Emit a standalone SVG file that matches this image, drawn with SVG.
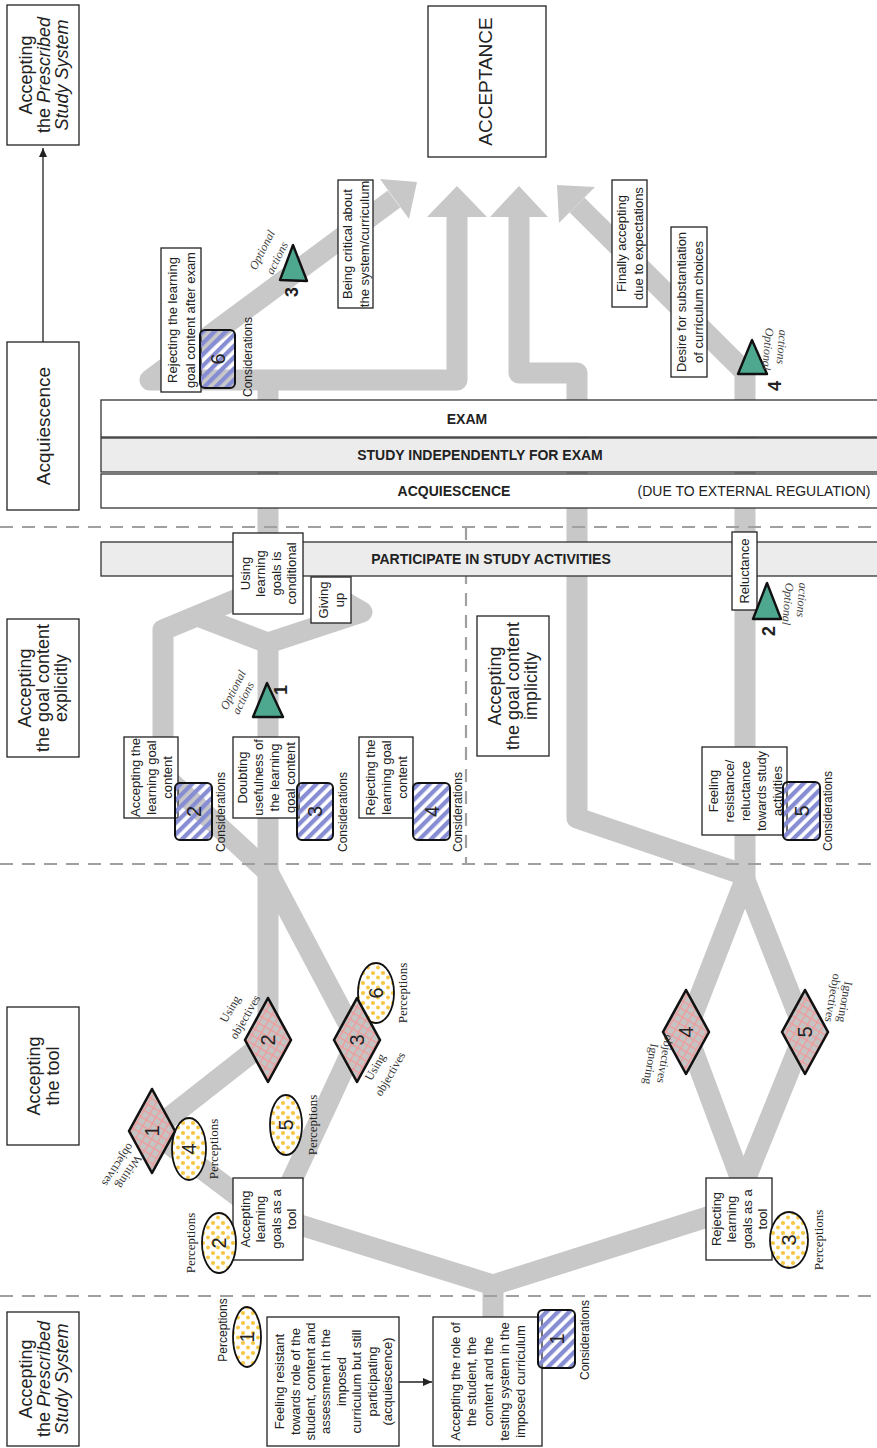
<svg xmlns="http://www.w3.org/2000/svg" width="877" height="1448" viewBox="0 0 877 1448">
<style>
.gp{fill:none;stroke:#c8c8c8;stroke-width:21;stroke-linejoin:round}
.ah{fill:#c8c8c8}
.dash{stroke:#a0a0a0;stroke-width:2.2;stroke-dasharray:13 9;fill:none}
.box{fill:#fff;stroke:#222;stroke-width:1.3}
.band{stroke:#333;stroke-width:1.3}
text{font-family:"Liberation Sans",Arial,sans-serif;fill:#222;text-anchor:middle;dominant-baseline:central}
.t13{font-size:13px}
.ph{font-size:18px}
.bt{font-size:14px;font-weight:bold}
.lab{font-size:12px}
.ser{font-family:"Liberation Serif","Times New Roman",serif;font-size:13px}
.opt{font-family:"Liberation Serif","Times New Roman",serif;font-style:italic;font-size:12px;fill:#444}
.obj{font-family:"Liberation Serif","Times New Roman",serif;font-size:12px;fill:#333}
.num{font-size:20px}
.tn{font-size:18px;font-weight:bold}
.cons{fill:url(#hatch);stroke:#111;stroke-width:2}
.perc{fill:url(#dots);stroke:#111;stroke-width:1.8}
.dia{fill:url(#grid);stroke:#111;stroke-width:2.6;stroke-linejoin:round}
.tri{fill:#4ea890;stroke:#111;stroke-width:2.4;stroke-linejoin:round}
.ln{stroke:#222;stroke-width:1.3;fill:none}
</style>
<defs>
<pattern id="hatch" width="8" height="8" patternUnits="userSpaceOnUse" patternTransform="rotate(-45)">
<rect x="0" y="0" width="8" height="4.3" fill="#878dd3"/>
</pattern>
<pattern id="dots" width="10" height="10" patternUnits="userSpaceOnUse">
<rect width="10" height="10" fill="#fff"/>
<circle cx="3" cy="3" r="2.1" fill="#f6c744"/>
<circle cx="8" cy="7.5" r="1.9" fill="#f6c744"/>
</pattern>
<pattern id="grid" width="7" height="7" patternUnits="userSpaceOnUse" patternTransform="rotate(30)">
<rect width="7" height="7" fill="#c4c4c4"/>
<path d="M0 0.5H7M0.5 0V7" stroke="#f29a9a" stroke-width="1.5"/>
</pattern>
<marker id="arr" markerWidth="10" markerHeight="10" refX="9" refY="5" orient="auto" markerUnits="userSpaceOnUse">
<path d="M0,1 L9,5 L0,9 Z" fill="#222"/>
</marker>
</defs>
<rect width="877" height="1448" fill="#fff"/>

<g id="connectors">
<path class="gp" d="M394,199 L150,380 L457,380 L457,215"/>
<path class="gp" d="M268,380 L268,585"/>
<path class="gp" d="M268,585 L240,598 L163,630 L163,775 L268,872"/>
<path class="gp" d="M268,872 L268,643"/>
<path class="gp" d="M200,617 L268,643 L362,612 L338,598" stroke-linecap="round"/>
<path class="gp" d="M268,872 L268,1040"/>
<path class="gp" d="M268,872 L357,1040"/>
<path class="gp" d="M268,1040 L152,1131 L250,1205"/>
<path class="gp" d="M357,1040 L285,1195"/>
<path class="gp" d="M268,1215 L493,1285 L720,1213"/>
<path class="gp" d="M493,1285 L493,1320"/>
<path class="gp" d="M743,1185 L686,1032 L745,880"/>
<path class="gp" d="M743,1185 L805,1032 L745,880"/>
<path class="gp" d="M745,885 L745,372 L577,205"/>
<path class="gp" d="M745,875 L577,818 L577,373 L519,373 L519,215"/>
<polygon class="ah" points="457,186 427,217 487,217"/>
<polygon class="ah" points="519,186 490,217 548,217"/>
<polygon class="ah" points="417,182 409,219 380,179"/>
<polygon class="ah" points="557,185 595,187 559,223"/>
<line class="ln" x1="43" y1="342" x2="43" y2="148" marker-end="url(#arr)"/>
<line class="ln" x1="399" y1="1382" x2="432" y2="1382" marker-end="url(#arr)"/>
</g>

<g id="phase-lines">
<line class="dash" x1="0" y1="527" x2="877" y2="527"/>
<line class="dash" x1="0" y1="864" x2="877" y2="864"/>
<line class="dash" x1="0" y1="1296" x2="877" y2="1296"/>
<line class="dash" x1="466" y1="527" x2="466" y2="864"/>
</g>

<g id="bands">
<rect class="band" x="101" y="400" width="790" height="37" fill="#fff"/>
<text class="bt" x="467" y="418.5">EXAM</text>
<rect class="band" x="101" y="438" width="790" height="34" fill="#ececec"/>
<text class="bt" x="480" y="455">STUDY INDEPENDENTLY FOR EXAM</text>
<rect class="band" x="101" y="474" width="790" height="34" fill="#fff"/>
<text class="bt" x="454" y="491">ACQUIESCENCE</text>
<text x="754" y="491" style="font-size:14px">(DUE TO EXTERNAL REGULATION)</text>
<rect class="band" x="101" y="542" width="790" height="34" fill="#ececec"/>
<text class="bt" x="491" y="559">PARTICIPATE IN STUDY ACTIVITIES</text>
</g>

<g id="phase-top" transform="translate(43,75) rotate(-90)">
<rect class="box" x="-70" y="-36" width="140" height="72"/>
<text class="ph"><tspan x="0" y="-17.5">Accepting</tspan><tspan x="0" y="0.5">the <tspan font-style="italic">Prescribed</tspan></tspan><tspan x="0" y="18.5" font-style="italic">Study System</tspan></text>
</g>
<g id="phase-acq" transform="translate(43,426) rotate(-90)">
<rect class="box" x="-84" y="-36" width="168" height="72"/>
<text class="ph" x="0" y="0" style="font-size:19px">Acquiescence</text>
</g>
<g id="phase-explicit" transform="translate(43,688) rotate(-90)">
<rect class="box" x="-69" y="-36" width="138" height="72"/>
<text class="ph"><tspan x="0" y="-18">Accepting</tspan><tspan x="0" y="0">the goal content</tspan><tspan x="0" y="18">explicitly</tspan></text>
</g>
<g id="phase-tool" transform="translate(43,1076) rotate(-90)">
<rect class="box" x="-69" y="-36" width="138" height="72"/>
<text class="ph"><tspan x="0" y="-9.5">Accepting</tspan><tspan x="0" y="10">the tool</tspan></text>
</g>
<g id="phase-bottom" transform="translate(43,1379) rotate(-90)">
<rect class="box" x="-67" y="-36" width="134" height="72"/>
<text class="ph"><tspan x="0" y="-17.5">Accepting</tspan><tspan x="0" y="0.5">the <tspan font-style="italic">Prescribed</tspan></tspan><tspan x="0" y="18.5" font-style="italic">Study System</tspan></text>
</g>
<g id="phase-implicit" transform="translate(513,686) rotate(-90)">
<rect class="box" x="-70" y="-36" width="140" height="72"/>
<text class="ph"><tspan x="0" y="-18">Accepting</tspan><tspan x="0" y="0">the goal content</tspan><tspan x="0" y="18">implicitly</tspan></text>
</g>

<g id="acceptance" transform="translate(487,81.5) rotate(-90)">
<rect class="box" x="-75.5" y="-59" width="151" height="118"/>
<text x="0" y="-2" style="font-size:19px">ACCEPTANCE</text>
</g>

<g id="rej-exam" transform="translate(181,320) rotate(-90)">
<rect class="box" x="-72" y="-20" width="144" height="40"/>
<text class="t13"><tspan x="0" y="-9">Rejecting the learning</tspan><tspan x="0" y="9">goal content after exam</tspan></text>
</g>
<g id="critical" transform="translate(355.5,244) rotate(-90)">
<rect class="box" x="-64" y="-17.5" width="128" height="35"/>
<text class="t13"><tspan x="0" y="-8.5">Being critical about</tspan><tspan x="0" y="8.5">the system/curriculum</tspan></text>
</g>
<g id="finally" transform="translate(629.5,243.5) rotate(-90)">
<rect class="box" x="-63.5" y="-17.5" width="127" height="35"/>
<text class="t13"><tspan x="0" y="-8.5">Finally accepting</tspan><tspan x="0" y="8.5">due to expectations</tspan></text>
</g>
<g id="desire" transform="translate(689,302) rotate(-90)">
<rect class="box" x="-75" y="-18" width="150" height="36"/>
<text class="t13"><tspan x="0" y="-8.5">Desire for substantiation</tspan><tspan x="0" y="8.5">of curriculum choices</tspan></text>
</g>
<g id="using-cond" transform="translate(268,573.5) rotate(-90)">
<rect class="box" x="-40.5" y="-35" width="81" height="70"/>
<text class="t13"><tspan x="0" y="-23.25">Using</tspan><tspan x="0" y="-7.75">learning</tspan><tspan x="0" y="7.75">goals is</tspan><tspan x="0" y="23.25">conditional</tspan></text>
</g>
<g id="giving-up" transform="translate(331,600) rotate(-90)">
<rect class="box" x="-23" y="-20" width="46" height="40"/>
<text class="t13"><tspan x="0" y="-8">Giving</tspan><tspan x="0" y="8">up</tspan></text>
</g>
<g id="reluctance" transform="translate(744.5,571) rotate(-90)">
<rect class="box" x="-39" y="-12.5" width="78" height="25"/>
<text class="t13" x="0" y="0">Reluctance</text>
</g>
<g id="acc-goal" transform="translate(151,777.5) rotate(-90)">
<rect class="box" x="-40.5" y="-27" width="81" height="54"/>
<text class="t13"><tspan x="0" y="-16">Accepting the</tspan><tspan x="0" y="0">learning goal</tspan><tspan x="0" y="16">content</tspan></text>
</g>
<g id="doubting" transform="translate(266,777.5) rotate(-90)">
<rect class="box" x="-40.5" y="-33" width="81" height="66"/>
<text class="t13"><tspan x="0" y="-24">Doubting</tspan><tspan x="0" y="-8">usefulness of</tspan><tspan x="0" y="8">the learning</tspan><tspan x="0" y="24">goal content</tspan></text>
</g>
<g id="rej-goal" transform="translate(386,777.5) rotate(-90)">
<rect class="box" x="-40.5" y="-27" width="81" height="54"/>
<text class="t13"><tspan x="0" y="-16">Rejecting the</tspan><tspan x="0" y="0">learning goal</tspan><tspan x="0" y="16">content</tspan></text>
</g>
<g id="feeling-res" transform="translate(744.5,791) rotate(-90)">
<rect class="box" x="-44" y="-42.5" width="88" height="85"/>
<text class="t13"><tspan x="0" y="-32">Feeling</tspan><tspan x="0" y="-16">resistance/</tspan><tspan x="0" y="0">reluctance</tspan><tspan x="0" y="16">towards study</tspan><tspan x="0" y="32">activities</tspan></text>
</g>
<g id="acc-tool" transform="translate(268,1219) rotate(-90)">
<rect class="box" x="-41" y="-35" width="82" height="70"/>
<text class="t13"><tspan x="0" y="-23.25">Accepting</tspan><tspan x="0" y="-7.75">learning</tspan><tspan x="0" y="7.75">goals as a</tspan><tspan x="0" y="23.25">tool</tspan></text>
</g>
<g id="rej-tool" transform="translate(739,1219) rotate(-90)">
<rect class="box" x="-41" y="-33" width="82" height="66"/>
<text class="t13"><tspan x="0" y="-23.25">Rejecting</tspan><tspan x="0" y="-7.75">learning</tspan><tspan x="0" y="7.75">goals as a</tspan><tspan x="0" y="23.25">tool</tspan></text>
</g>
<g id="feeling-resistant" transform="translate(333,1381.5) rotate(-90)">
<rect class="box" x="-64.5" y="-66" width="129" height="132"/>
<text class="t13"><tspan x="0" y="-53.9">Feeling resistant</tspan><tspan x="0" y="-38.5">towards role of the</tspan><tspan x="0" y="-23.1">student, content and</tspan><tspan x="0" y="-7.7">assessment in the</tspan><tspan x="0" y="7.7">imposed</tspan><tspan x="0" y="23.1">curriculum but still</tspan><tspan x="0" y="38.5">participating</tspan><tspan x="0" y="53.9">(acquiescence)</tspan></text>
</g>
<g id="acc-role" transform="translate(487.5,1381.5) rotate(-90)">
<rect class="box" x="-64.5" y="-54.5" width="129" height="109"/>
<text class="t13"><tspan x="0" y="-32.6">Accepting the role of</tspan><tspan x="0" y="-16.3">the student, the</tspan><tspan x="0" y="0">content and the</tspan><tspan x="0" y="16.3">testing system in the</tspan><tspan x="0" y="32.6">imposed curriculum</tspan></text>
</g>

<g id="cons-1"><rect class="cons" x="538" y="1310" width="37" height="58" rx="5"/><text class="num" transform="translate(556.5,1339) rotate(-90)">1</text><text class="lab" transform="translate(585,1340) rotate(-90)">Considerations</text></g>
<g id="cons-2"><rect class="cons" x="175" y="783" width="37" height="57" rx="5"/><text class="num" transform="translate(193.5,811.5) rotate(-90)">2</text><text class="lab" transform="translate(221,812) rotate(-90)">Considerations</text></g>
<g id="cons-3"><rect class="cons" x="297" y="783" width="36" height="57" rx="5"/><text class="num" transform="translate(315,811.5) rotate(-90)">3</text><text class="lab" transform="translate(343,812) rotate(-90)">Considerations</text></g>
<g id="cons-4"><rect class="cons" x="413" y="783" width="37" height="57" rx="5"/><text class="num" transform="translate(431.5,811.5) rotate(-90)">4</text><text class="lab" transform="translate(458,812) rotate(-90)">Considerations</text></g>
<g id="cons-5"><rect class="cons" x="783" y="782" width="37" height="58" rx="5"/><text class="num" transform="translate(801.5,811) rotate(-90)">5</text><text class="lab" transform="translate(828,811) rotate(-90)">Considerations</text></g>
<g id="cons-6"><rect class="cons" x="200" y="330" width="35" height="58" rx="5"/><text class="num" transform="translate(217.5,359) rotate(-90)">6</text><text class="lab" transform="translate(248,357) rotate(-90)">Considerations</text></g>

<g id="perc-1"><ellipse class="perc" cx="247" cy="1337" rx="14" ry="30"/><text class="num" transform="translate(247,1337) rotate(-90)">1</text><text class="lab" transform="translate(223,1330) rotate(-90)">Perceptions</text></g>
<g id="perc-2"><ellipse class="perc" cx="219" cy="1243" rx="17" ry="30"/><text class="num" transform="translate(219,1243) rotate(-90)">2</text><text class="ser" transform="translate(190,1243) rotate(-90)">Perceptions</text></g>
<g id="perc-3"><ellipse class="perc" cx="789" cy="1240" rx="19" ry="28"/><text class="num" transform="translate(789,1240) rotate(-90)">3</text><text class="ser" transform="translate(818,1240) rotate(-90)">Perceptions</text></g>
<g id="perc-4"><ellipse class="perc" cx="189" cy="1149" rx="17" ry="31"/><text class="num" transform="translate(189,1149) rotate(-90)">4</text><text class="ser" transform="translate(213,1149) rotate(-90)">Perceptions</text></g>
<g id="perc-5"><ellipse class="perc" cx="286" cy="1125" rx="16" ry="30"/><text class="num" transform="translate(286,1125) rotate(-90)">5</text><text class="ser" transform="translate(312,1125) rotate(-90)">Perceptions</text></g>
<g id="perc-6"><ellipse class="perc" cx="376" cy="993" rx="18" ry="30"/><text class="num" transform="translate(376,993) rotate(-90)">6</text><text class="ser" transform="translate(402,993) rotate(-90)">Perceptions</text></g>

<g id="obj-1"><polygon class="dia" points="152,1089 175,1131 152,1173 129,1131"/><text class="num" transform="translate(152,1131) rotate(-90)">1</text><text class="obj" transform="translate(129,1172) rotate(123)">Writing</text><text class="obj" transform="translate(118,1165) rotate(123)">objectives</text></g>
<g id="obj-2"><polygon class="dia" points="268,998 291,1040 268,1082 245,1040"/><text class="num" transform="translate(268,1040) rotate(-90)">2</text><text class="obj" transform="translate(230,1009) rotate(-60)">Using</text><text class="obj" transform="translate(245,1017) rotate(-60)">objectives</text></g>
<g id="obj-3"><polygon class="dia" points="357,998 380,1040 357,1082 334,1040"/><text class="num" transform="translate(357,1040) rotate(-90)">3</text><text class="obj" transform="translate(375,1067) rotate(-60)">Using</text><text class="obj" transform="translate(390,1074) rotate(-60)">objectives</text></g>
<g id="obj-4"><polygon class="dia" points="686,990 709,1032 686,1074 663,1032"/><text class="num" transform="translate(686,1032) rotate(-90)">4</text><text class="obj" transform="translate(651,1064) rotate(100)">Ignoring</text><text class="obj" transform="translate(665,1059) rotate(100)">objectives</text></g>
<g id="obj-5"><polygon class="dia" points="805,990 828,1032 805,1074 782,1032"/><text class="num" transform="translate(805,1032) rotate(-90)">5</text><text class="obj" transform="translate(845,1002) rotate(100)">Ignoring</text><text class="obj" transform="translate(833,998) rotate(100)">objectives</text></g>

<g id="act-1"><polygon class="tri" points="267,683 253,717 283,717"/><text class="tn" transform="translate(281,690) rotate(-90)">1</text><text class="opt" transform="translate(233,690) rotate(-63)">Optional</text><text class="opt" transform="translate(243,698) rotate(-63)">actions</text></g>
<g id="act-2"><polygon class="tri" points="767,583 753,619 781,619"/><text class="tn" transform="translate(769,631) rotate(-90)">2</text><text class="opt" transform="translate(788,604) rotate(95)">Optional</text><text class="opt" transform="translate(802,600) rotate(95)">actions</text></g>
<g id="act-3"><polygon class="tri" points="293,245 280,280 307,281"/><text class="tn" transform="translate(292,292) rotate(-90)">3</text><text class="opt" transform="translate(262,250) rotate(-63)">Optional</text><text class="opt" transform="translate(277,258) rotate(-63)">actions</text></g>
<g id="act-4"><polygon class="tri" points="752,340 738,374 767,374"/><text class="tn" transform="translate(775,386) rotate(-90)">4</text><text class="opt" transform="translate(768,349) rotate(95)">Optional</text><text class="opt" transform="translate(782,347) rotate(95)">actions</text></g>
</svg>
